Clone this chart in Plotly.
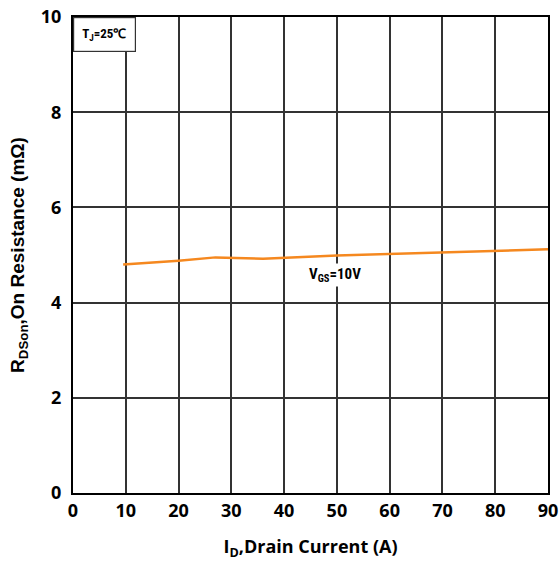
import plotly.graph_objects as go

drain_current = [9.5, 20, 27, 36, 50, 60, 70, 80, 90]
rdson = [4.80, 4.88, 4.95, 4.92, 4.99, 5.02, 5.06, 5.09, 5.12]
x_ticks = [0, 10, 20, 30, 40, 50, 60, 70, 80, 90]
y_ticks = [0, 2, 4, 6, 8, 10]

fig = go.Figure()
fig.add_trace(go.Scatter(x=drain_current, y=rdson, mode="lines",
                         line=dict(color="#F5881F", width=2.5),
                         showlegend=False, hoverinfo="skip"))

narrow = "Liberation Sans Narrow, Arial Narrow, Roboto Condensed, sans-serif"
fig.add_annotation(x=49.6, y=4.57, xref="x", yref="y",
                   text="V<sub>GS</sub>=10V", showarrow=False,
                   font=dict(family=narrow, size=15, color="black", weight="bold"),
                   bgcolor="white")
fig.add_annotation(x=0, y=10, xref="x", yref="y", xanchor="left", yanchor="top",
                   text="T<sub>J</sub>=25℃", showarrow=False,
                   font=dict(family=narrow, size=13, color="black", weight="bold"),
                   bgcolor="white", bordercolor="#333", borderwidth=1.2, borderpad=8)

tickfont = dict(family="Open Sans, sans-serif", size=18, color="black", weight="bold")

fig.update_xaxes(range=[0, 90], tickvals=x_ticks, showgrid=True, gridcolor="#333", gridwidth=1.5,
                 showline=True, linecolor="black", linewidth=2, mirror=True,
                 ticks="outside", ticklen=0, tickcolor="rgba(0,0,0,0)",
                 tickfont=tickfont, zeroline=False, automargin=False, ticklabeloverflow="allow",
                 title=dict(text="I<sub>D</sub>,Drain Current (A)",
                            font=dict(family="Open Sans, sans-serif", size=18, color="black", weight="bold"),
                            standoff=20))
fig.update_yaxes(range=[0, 10], tickvals=y_ticks, showgrid=True, gridcolor="#333", gridwidth=1.5,
                 showline=True, linecolor="black", linewidth=2, mirror=True,
                 ticks="outside", ticklen=6, tickcolor="rgba(0,0,0,0)",
                 tickfont=tickfont, zeroline=False, automargin=False, ticklabeloverflow="allow",
                 title=dict(text="R<sub>DSon</sub>,On Resistance (mΩ)",
                            font=dict(family="Liberation Sans, Arial, sans-serif", size=19, color="black", weight="bold"),
                            standoff=11))

fig.update_layout(width=559, height=562, margin=dict(l=73, r=11, t=17, b=69),
                  plot_bgcolor="white", paper_bgcolor="white")

fig.write_html("out.html", config={"displayModeBar": False},
               post_script="document.body.style.margin='0';document.body.style.overflow='hidden';")
